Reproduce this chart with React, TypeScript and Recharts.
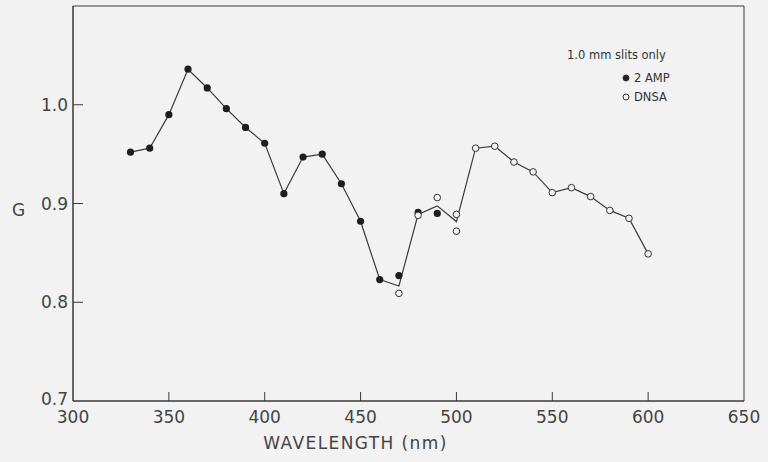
import React from 'react'
import {
  ScatterChart,
  Scatter,
  XAxis,
  YAxis,
  ReferenceArea,
  Legend,
} from 'recharts'

// wavelength (nm) and G values
const ampWavelengths = [330, 340, 350, 360, 370, 380, 390, 400, 410, 420, 430, 440, 450, 460, 470, 480, 490]
const ampValues = [0.952, 0.956, 0.990, 1.036, 1.017, 0.996, 0.977, 0.961, 0.910, 0.947, 0.950, 0.920, 0.882, 0.823, 0.827, 0.891, 0.890]

const dnsaWavelengths = [470, 480, 490, 500, 500, 510, 520, 530, 540, 550, 560, 570, 580, 590, 600]
const dnsaValues = [0.809, 0.888, 0.906, 0.889, 0.872, 0.956, 0.958, 0.942, 0.932, 0.911, 0.916, 0.907, 0.893, 0.885, 0.849]

// the drawn mean curve
const curveWavelengths = [330, 340, 350, 360, 370, 380, 390, 400, 410, 420, 430, 440, 450, 460, 470, 480, 490, 500, 510, 520, 530, 540, 550, 560, 570, 580, 590, 600]
const curveValues = [0.952, 0.956, 0.990, 1.036, 1.017, 0.996, 0.977, 0.961, 0.910, 0.947, 0.950, 0.920, 0.882, 0.823, 0.8165, 0.889, 0.8976, 0.8817, 0.956, 0.958, 0.942, 0.932, 0.911, 0.916, 0.907, 0.893, 0.885, 0.849]

const xTicks = [300, 350, 400, 450, 500, 550, 600, 650]
const yTicks = [0.7, 0.8, 0.9, 1.0]

const ink = '#3a3a3a'
const font = '"DejaVu Sans", sans-serif'

const zip = (xs: number[], ys: number[]) => xs.map((x, i) => ({ x, y: ys[i] }))

const ampData = zip(ampWavelengths, ampValues)
const dnsaData = zip(dnsaWavelengths, dnsaValues)
const curveData = zip(curveWavelengths, curveValues)

const XTick = (props: any) => {
  const { x, y, payload } = props
  const edge = payload.value === 300 || payload.value === 650
  return (
    <g>
      {!edge && <line x1={x} y1={y} x2={x} y2={y - 9} stroke={ink} strokeWidth={1} />}
      <text x={x} y={y + 22} textAnchor="middle" fontSize={17} fill="#444" fontFamily={font}>
        {payload.value}
      </text>
    </g>
  )
}

const YTick = (props: any) => {
  const { x, y, payload } = props
  const edge = payload.value === 0.7
  return (
    <g>
      {!edge && <line x1={x} y1={y} x2={x + 10} y2={y} stroke={ink} strokeWidth={1} />}
      <text x={x - 5} y={y + (edge ? 4 : 6)} textAnchor="end" fontSize={17} fill="#444" fontFamily={font}>
        {payload.value.toFixed(1)}
      </text>
    </g>
  )
}

const LegendBox = (props: any) => {
  const items = (props.payload || []).filter((p: any) => p.value !== 'curve')
  return (
    <div style={{ fontFamily: font, fontSize: 11.5, color: '#333' }}>
      <div style={{ marginBottom: 9 }}>1.0 mm slits only</div>
      {items.map((p: any) => (
        <div key={p.value} style={{ display: 'flex', alignItems: 'center', marginLeft: 54, marginBottom: 5 }}>
          <svg width={10} height={10} style={{ marginRight: 3 }}>
            <circle
              cx={5}
              cy={5}
              r={3}
              fill={p.value === '2AMP' ? '#222' : 'none'}
              stroke="#333"
              strokeWidth={1}
            />
          </svg>
          <span>{p.value === '2AMP' ? '2 AMP' : p.value}</span>
        </div>
      ))}
    </div>
  )
}

export default function App() {
  return (
    <div style={{ position: 'absolute', top: 0, left: 0, width: 768, height: 462, background: '#f2f2f2' }}>
      <ScatterChart width={768} height={462} margin={{ top: 6, right: 24, left: 0, bottom: 0 }}>
        <XAxis
          dataKey="x"
          type="number"
          domain={[300, 650]}
          ticks={xTicks}
          tick={XTick}
          tickLine={false}
          tickSize={0}
          tickMargin={0}
          height={61}
          axisLine={{ stroke: ink }}
          label={{
            value: 'WAVELENGTH (nm)',
            position: 'insideBottom',
            offset: 13,
            dx: -53,
            fontSize: 17,
            fill: '#444',
            fontFamily: font,
            letterSpacing: 1.4,
          }}
        />
        <YAxis
          dataKey="y"
          type="number"
          domain={[0.7, 1.1]}
          ticks={yTicks}
          tick={YTick}
          tickLine={false}
          tickSize={0}
          tickMargin={0}
          width={73}
          axisLine={{ stroke: ink }}
          label={{ value: 'G', position: 'insideLeft', offset: 12, dy: 6, fontSize: 17, fill: '#444', fontFamily: font }}
        />
        <ReferenceArea x1={300} x2={650} y1={0.7} y2={1.1} fill="none" stroke={ink} strokeWidth={1} />
        <Legend
          layout="horizontal"
          verticalAlign="middle"
          align="center"
          content={LegendBox}
          wrapperStyle={{ top: 48, left: 567, width: 140 }}
        />
        <Scatter
          name="curve"
          data={curveData}
          line={{ stroke: ink, strokeWidth: 1.2 }}
          shape={() => <g />}
          legendType="none"
          isAnimationActive={false}
        />
        <Scatter
          name="2AMP"
          data={ampData}
          shape={(p: any) => <circle cx={p.cx} cy={p.cy} r={3.6} fill="#1e1e1e" />}
          isAnimationActive={false}
        />
        <Scatter
          name="DNSA"
          data={dnsaData}
          shape={(p: any) => <circle cx={p.cx} cy={p.cy} r={3.3} fill="#f2f2f2" stroke="#333" strokeWidth={1} />}
          isAnimationActive={false}
        />
      </ScatterChart>
    </div>
  )
}
